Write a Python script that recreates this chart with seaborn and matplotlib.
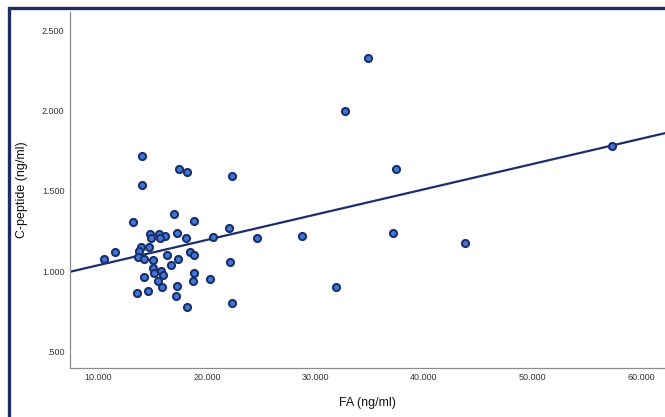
import pandas as pd
import matplotlib
matplotlib.use('Agg')
import matplotlib.pyplot as plt
import matplotlib.patches as mpatches
import seaborn as sns

# FA (ng/ml) and C-peptide (ng/ml)
fa = [14.03, 17.44, 18.12, 22.32, 14.06, 16.98, 13.14, 18.79, 22.02, 14.74,
      15.57, 16.09, 14.86, 15.66, 17.20, 18.06, 20.54, 13.91, 14.62, 13.75,
      11.48, 10.53, 13.66, 14.18, 15.01, 16.30, 17.32, 18.42, 18.79, 22.11,
      16.70, 15.04, 15.75, 15.13, 15.94, 14.21, 18.79, 20.29, 18.76, 15.45,
      17.23, 15.82, 13.57, 14.53, 17.16, 22.27, 18.12, 34.86, 32.71, 37.38,
      24.57, 28.72, 37.13, 31.94, 57.29, 43.77]
cpep = [1.717, 1.638, 1.616, 1.595, 1.537, 1.358, 1.308, 1.311, 1.267, 1.232,
        1.234, 1.220, 1.207, 1.207, 1.236, 1.207, 1.211, 1.153, 1.151, 1.126,
        1.122, 1.075, 1.091, 1.076, 1.070, 1.101, 1.076, 1.118, 1.103, 1.058,
        1.039, 1.019, 1.002, 0.991, 0.979, 0.965, 0.991, 0.952, 0.938, 0.938,
        0.907, 0.900, 0.867, 0.877, 0.846, 0.803, 0.778, 2.325, 1.999, 1.638,
        1.205, 1.221, 1.236, 0.902, 1.779, 1.174]

x_ticks = [10, 20, 30, 40, 50, 60]
x_ticklabels = ['10.000', '20.000', '30.000', '40.000', '50.000', '60.000']
y_ticks = [0.5, 1.0, 1.5, 2.0, 2.5]
y_ticklabels = ['.500', '1.000', '1.500', '2.000', '2.500']

df = pd.DataFrame({'FA (ng/ml)': fa, 'C-peptide (ng/ml)': cpep})

sns.set_style('white')
plt.rcParams['font.family'] = ['Liberation Sans', 'DejaVu Sans']

fig = plt.figure(figsize=(6.65, 4.17), dpi=100)
ax = fig.add_axes([0.1053, 0.1187, 0.8947, 0.8525])
ax.set_xlim(7.38, 62.22)
ax.set_ylim(0.402, 2.613)

navy = '#1b2f6b'
sns.regplot(data=df, x='FA (ng/ml)', y='C-peptide (ng/ml)', ax=ax, ci=None,
            truncate=False,
            scatter_kws={'s': 26, 'color': '#4178d8', 'edgecolor': navy,
                         'linewidths': 1.5, 'alpha': 1, 'zorder': 3},
            line_kws={'color': navy, 'lw': 1.6, 'zorder': 2})

ax.set_xlim(7.38, 62.22)
ax.set_ylim(0.402, 2.613)
ax.set_xticks(x_ticks)
ax.set_xticklabels(x_ticklabels)
ax.set_yticks(y_ticks)
ax.set_yticklabels(y_ticklabels)
ax.tick_params(length=0, labelsize=6.5, labelcolor='#333333', pad=4)
ax.set_xlabel('FA (ng/ml)', fontsize=9, color='#111111', labelpad=11)
ax.set_ylabel('C-peptide (ng/ml)', fontsize=9, color='#111111', labelpad=10)

for side in ['top', 'right']:
    ax.spines[side].set_visible(False)
for side in ['left', 'bottom']:
    ax.spines[side].set_color('#8c8c8c')
    ax.spines[side].set_linewidth(0.9)

# dark frame around the chart, cut off at right and bottom
frame = mpatches.Rectangle((9 / 665, -0.05), 1.1, 1.05 - 8 / 417,
                           transform=fig.transFigure, fill=False,
                           edgecolor='#1c2d5e', linewidth=2.4, clip_on=False)
fig.patches.append(frame)

fig.savefig('out.png', dpi=100)
